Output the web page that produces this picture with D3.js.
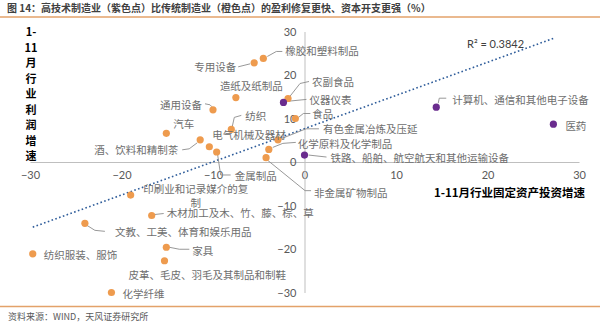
<!DOCTYPE html>
<html><head><meta charset="utf-8">
<script src="https://cdn.jsdelivr.net/npm/d3@7/dist/d3.min.js"></script>
<style>
html,body{margin:0;padding:0;background:#fff;}
svg{display:block;}
</style></head>
<body>
<svg id="chart" width="600" height="326"></svg>
<script>
// ---- data ----
const industries = ["橡胶和塑料制品","专用设备","造纸及纸制品","通用设备","汽车","纺织","电气机械及器材","酒、饮料和精制茶","金属制品","有色金属冶炼及压延","化学原料及化学制品","非金属矿物制品","农副食品","仪器仪表","食品","铁路、船舶、航空航天和其他运输设备","计算机、通信和其他电子设备","医药","印刷业和记录媒介的复制","木材加工及木、竹、藤、棕、草","文教、工美、体育和娱乐用品","纺织服装、服饰","家具","皮革、毛皮、羽毛及其制品和制鞋","化学纤维"];
const investGrowth = [-4.5,-5.5,-7.5,-10.0,-15.1,-8.0,-10.4,-11.4,-9.6,-2.9,-3.9,-4.2,-1.8,-2.3,-1.0,0.0,14.4,27.2,-19.0,-16.7,-24.0,-29.7,-15.1,-15.3,-21.1];
const profitGrowth = [23.8,22.8,14.8,12.0,6.6,7.5,3.5,5.1,2.3,5.1,2.9,1.0,14.6,13.7,10.0,1.6,12.6,8.7,-7.6,-12.3,-14.1,-21.1,-19.6,-22.7,-30.0];
const groups = ["trad","trad","trad","trad","trad","trad","trad","trad","trad","trad","trad","trad","trad","high","trad","high","high","high","trad","trad","trad","trad","trad","trad","trad"];
const xTicks = [-30,-20,-10,0,10,20,30];
const yTicks = [-30,-20,-10,0,10,20,30];
const titleText = "图 14：高技术制造业（紫色点）比传统制造业（橙色点）的盈利修复更快、资本开支更强（%）";
const yTitle = ["1-","11","月","行","业","利","润","增","速"];
const xTitle = "1-11月行业固定资产投资增速";
const r2Text = "R² = 0.3842";
const sourceText = "资料来源：WIND，天风证券研究所";

// ---- label layout (pixel offsets from each point) ----
const labelLayout = [
 {dx:22,dy:-8,a:"start",lead:[[4,-2],[13,-7],[19,-7]]},
 {dx:-18,dy:4,a:"end",lead:[[-16,4],[-4,1]]},
 {dx:-16,dy:-12,a:"start"},
 {dx:-11,dy:-5,a:"end",lead:[[-8,-6],[-3,-5],[-1,-3]]},
 {dx:7,dy:-10,a:"start"},
 {dx:14,dy:-14,a:"start",lead:[[1,-3],[3,-12],[10,-14]]},
 {dx:3,dy:-12,a:"start"},
 {dx:-22,dy:10,a:"end",lead:[[-18,10],[-11,9],[-3,3]]},
 {dx:18,dy:24,a:"start",lead:[[1,3],[4,23],[14,23]]},
 {dx:45,dy:-11,a:"start",lead:[[3,-1],[28,-11],[41,-11]]},
 {dx:29,dy:-6,a:"start",lead:[[4,-2],[14,-6],[27,-7]]},
 {dx:48,dy:35,a:"start",lead:[[2,3],[39,33],[45,33]]},
 {dx:24,dy:-17,a:"start",lead:[[1,-1],[12,-15],[21,-17]]},
 {dx:26,dy:-3,a:"start",lead:[[3,-1],[23,-3]]},
 {dx:17,dy:-5,a:"start",lead:[[3,-1],[8,-5],[15,-5]]},
 {dx:26,dy:2,a:"start",lead:[[4,0],[22,2]]},
 {dx:16,dy:-8,a:"start",lead:[[2,-4],[3,-9],[10,-9]]},
 {dx:12,dy:1,a:"start"},
 {dx:65,dy:-7,a:"middle",lines:["印刷业和记录媒介的复","制"]},
 {dx:15,dy:-3,a:"start",lead:[[3,-1],[12,-2]]},
 {dx:30,dy:8,a:"start",lead:[[2,2],[10,7],[20,8]]},
 {dx:11,dy:1,a:"start"},
 {dx:26,dy:3,a:"start",lead:[[3,0],[13,2],[23,2]]},
 {dx:-36,dy:14,a:"start"},
 {dx:11,dy:1,a:"start"}
];

const svg = d3.select("#chart");
const colors = {trad:"#EE9B4E", high:"#6A2C8E"};
const labelFont = "'Noto Sans CJK SC','Noto Sans',sans-serif";
const numFont = "Lato,'Liberation Sans',sans-serif";

// header
svg.append("text").attr("x",7).attr("y",11.5).attr("font-family",labelFont)
  .attr("font-size",10).attr("font-weight","bold").attr("fill","#404040").text(titleText);
svg.append("line").attr("x1",0).attr("x2",600).attr("y1",17).attr("y2",17)
  .attr("stroke","#E3A26A").attr("stroke-width",1.5);

// footer
svg.append("line").attr("x1",0).attr("x2",600).attr("y1",306.5).attr("y2",306.5)
  .attr("stroke","#E3A26A").attr("stroke-width",1.5);
svg.append("text").attr("x",8).attr("y",320).attr("font-family",labelFont)
  .attr("font-size",9).attr("fill","#595959").text(sourceText);

// scales
const x = d3.scaleLinear().domain([-30,30]).range([30,579]);
const y = d3.scaleLinear().domain([-30,30]).range([292.5,31.5]);

// axes lines
const axisColor = "#BFBFBF";
const xAxis = d3.axisBottom(x).tickValues(xTicks).tickSize(0).tickPadding(9);
const gx = svg.append("g").attr("transform",`translate(0,${y(0)})`).call(xAxis);
gx.select(".domain").attr("stroke",axisColor).attr("stroke-width",1);
gx.selectAll("text").attr("font-family",numFont).attr("font-size",11).attr("fill","#595959");

const yAxis = d3.axisLeft(y).tickValues(yTicks).tickSize(0).tickPadding(8);
const gy = svg.append("g").attr("transform",`translate(${x(0)},0)`).call(yAxis);
gy.select(".domain").attr("stroke",axisColor).attr("stroke-width",1);
gy.selectAll("text").attr("font-family",numFont).attr("font-size",11).attr("fill","#595959");

// trend line (least squares from the data)
const n = investGrowth.length;
const mx = d3.mean(investGrowth), my = d3.mean(profitGrowth);
let sxy=0,sxx=0;
for(let i=0;i<n;i++){sxy+=(investGrowth[i]-mx)*(profitGrowth[i]-my);sxx+=(investGrowth[i]-mx)**2;}
const slope=sxy/sxx, icpt=my-slope*mx;
const [xmin,xmax]=d3.extent(investGrowth);
svg.append("line").attr("x1",x(xmin)).attr("y1",y(slope*xmin+icpt))
  .attr("x2",x(xmax)).attr("y2",y(slope*xmax+icpt))
  .attr("stroke","#2E5C9A").attr("stroke-width",1.6).attr("stroke-dasharray","1.6,2.4");
svg.append("text").attr("x",467).attr("y",48).attr("font-family",numFont)
  .attr("font-size",11).attr("fill","#404040").text(r2Text);

// axis titles
const yt = svg.append("text").attr("font-family",labelFont).attr("font-size",11)
  .attr("font-weight","bold").attr("fill","#000").attr("text-anchor","middle");
yTitle.forEach((t,i)=>{
  yt.append("tspan").attr("x",31).attr("y",36+i*15.5).text(t);
});
svg.append("text").attr("x",585).attr("y",197).attr("text-anchor","end")
  .attr("font-family",labelFont).attr("font-size",11.5).attr("font-weight","bold")
  .attr("fill","#000").text(xTitle);

// leaders
const pts = industries.map((name,i)=>({name,px:x(investGrowth[i]),py:y(profitGrowth[i]),g:groups[i],L:labelLayout[i]}));
const line = d3.line();
svg.append("g").selectAll("path").data(pts.filter(d=>d.L.lead)).join("path")
  .attr("d",d=>line(d.L.lead.map(o=>[d.px+o[0],d.py+o[1]])))
  .attr("fill","none").attr("stroke","#8C8C8C").attr("stroke-width",0.9);

// points
svg.append("g").selectAll("circle").data(pts).join("circle")
  .attr("cx",d=>d.px).attr("cy",d=>d.py).attr("r",3.6)
  .attr("fill",d=>colors[d.g]);

// labels
const lg = svg.append("g").attr("font-family",labelFont).attr("font-size",10.5).attr("fill","#6E6E6E");
pts.forEach(d=>{
  const t = lg.append("text").attr("text-anchor",d.L.a).attr("dominant-baseline","central");
  if(d.L.lines){
    d.L.lines.forEach((s,k)=>t.append("tspan").attr("x",d.px+d.L.dx).attr("y",d.py+d.L.dy+k*13.7).text(s));
  } else {
    t.attr("x",d.px+d.L.dx).attr("y",d.py+d.L.dy).text(d.name);
  }
});
</script>
</body></html>
